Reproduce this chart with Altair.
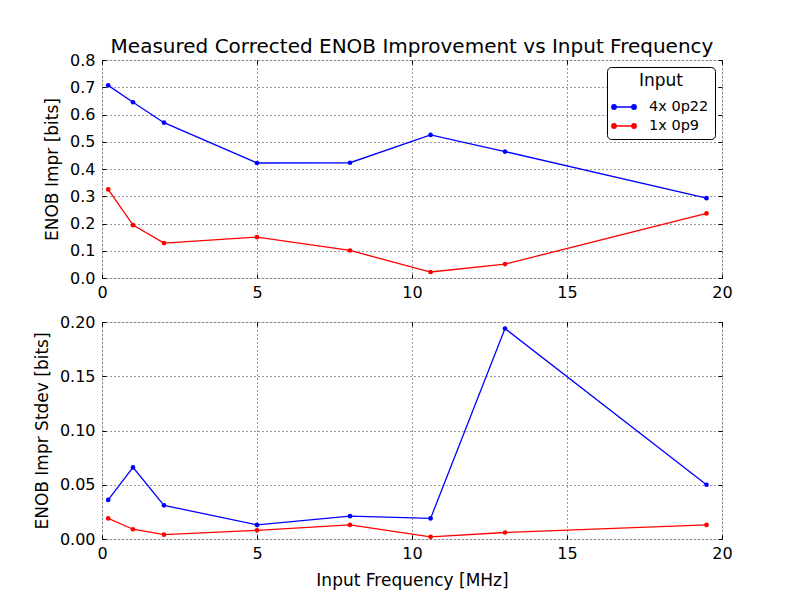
import altair as alt
import pandas as pd

freq = [0.2, 1, 2, 5, 8, 10.6, 13, 19.5]
series = ["4x 0p22", "1x 0p9"]
impr_4x = [0.707, 0.645, 0.570, 0.422, 0.423, 0.525, 0.464, 0.293]
impr_1x = [0.325, 0.194, 0.128, 0.150, 0.101, 0.022, 0.051, 0.237]
stdev_4x = [0.036, 0.066, 0.031, 0.013, 0.021, 0.019, 0.194, 0.050]
stdev_1x = [0.019, 0.009, 0.004, 0.008, 0.013, 0.002, 0.006, 0.013]
x_ticks = [0, 5, 10, 15, 20]
top_ticks = [0.0, 0.1, 0.2, 0.3, 0.4, 0.5, 0.6, 0.7, 0.8]
bot_ticks = [0.0, 0.05, 0.10, 0.15, 0.20]
colors = ["#0000ff", "#ff0000"]

FONT = "DejaVu Sans"

rows = []
for i, f in enumerate(freq):
    rows.append({"freq": f, "series": series[0], "impr": impr_4x[i], "stdev": stdev_4x[i]})
    rows.append({"freq": f, "series": series[1], "impr": impr_1x[i], "stdev": stdev_1x[i]})
df = pd.DataFrame(rows)

SYMBOL = ("M-1,0L1,0"
          "M-1.22,0a0.22,0.22 0 1,0 0.44,0a0.22,0.22 0 1,0 -0.44,0"
          "M0.78,0a0.22,0.22 0 1,0 0.44,0a0.22,0.22 0 1,0 -0.44,0")


def panel(ycol, ydomain, yticks, yfmt, ytitle, extent, height, xtitle, show_legend, title=None):
    xscale = alt.Scale(domain=[0, 20], nice=False, zero=False)
    yscale = alt.Scale(domain=ydomain, nice=False, zero=False)
    xaxis_kwargs = dict(
        values=x_ticks, format="d", grid=True, gridColor="black", gridDash=[1, 3],
        gridWidth=0.8, gridOpacity=1, ticks=False, tickSize=0, domain=False,
        labelPadding=6, labelFontSize=16, labelFont=FONT, labelColor="black",
        labelFlush=False, labelOverlap=False,
        titleFontSize=17, titleFont=FONT, titleFontWeight="normal", titleColor="black",
        titlePadding=11,
    )
    if xtitle:
        xaxis = alt.Axis(title=xtitle, **xaxis_kwargs)
    else:
        xaxis = alt.Axis(title=None, **xaxis_kwargs)
    yaxis = alt.Axis(
        title=ytitle, values=yticks, format=yfmt, grid=True, gridColor="black", gridDash=[1, 3],
        gridWidth=0.8, gridOpacity=1, ticks=False, tickSize=0, domain=False,
        labelPadding=7, labelFontSize=16, labelFont=FONT, labelColor="black",
        labelFlush=False, labelOverlap=False, labelBaseline="middle",
        titleFontSize=17, titleFont=FONT, titleFontWeight="normal", titleColor="black",
        titlePadding=0, minExtent=extent, maxExtent=extent,
    )
    if show_legend:
        legend = alt.Legend(
            title="Input", orient="top-right", offset=7, strokeColor="black", fillColor="white",
            cornerRadius=4, padding=6, titleFontSize=17, titleFont=FONT, titleFontWeight="normal",
            titleColor="black", titleAnchor="middle", titlePadding=6,
            labelFontSize=14.5, labelFont=FONT, labelColor="black", labelOffset=14,
            symbolType=SYMBOL, symbolSize=400, symbolStrokeWidth=1.4, rowPadding=1,
        )
    else:
        legend = None
    color = alt.Color("series:N", scale=alt.Scale(domain=series, range=colors), legend=legend)

    lines = alt.Chart(df).mark_line(strokeWidth=1.3).encode(
        x=alt.X("freq:Q", scale=xscale, axis=xaxis),
        y=alt.Y(f"{ycol}:Q", scale=yscale, axis=yaxis),
        color=color,
        order="freq:Q",
    )
    points = alt.Chart(df).mark_point(filled=True, size=22, opacity=1).encode(
        x=alt.X("freq:Q", axis=None),
        y=alt.Y(f"{ycol}:Q", axis=None),
        color=color,
    )
    tick_kw = dict(offset=-4, tickSize=4, ticks=True, tickColor="black", tickWidth=1,
                   labels=False, grid=False, domain=False, title=None)
    ticks_a = alt.Chart(df).mark_point(opacity=0).encode(
        x=alt.X("freq:Q", axis=alt.Axis(orient="bottom", values=x_ticks, **tick_kw)),
        y=alt.Y(f"{ycol}:Q", axis=alt.Axis(orient="left", values=yticks, **tick_kw)),
    )
    ticks_b = alt.Chart(df).mark_point(opacity=0).encode(
        x=alt.X("freq:Q", axis=alt.Axis(orient="top", values=x_ticks, **tick_kw)),
        y=alt.Y(f"{ycol}:Q", axis=alt.Axis(orient="right", values=yticks, **tick_kw)),
    )
    props = dict(width=620, height=height)
    if title:
        props["title"] = alt.Title(title, fontSize=20, font=FONT, fontWeight="normal",
                                   color="black", anchor="middle", offset=-5)
    return alt.layer(lines, points, ticks_a, ticks_b).resolve_axis(
        x="independent", y="independent").properties(**props)


top = panel("impr", [0, 0.8], top_ticks, ".1f", "ENOB Impr [bits]", 41, 218, None, True,
            title="Measured Corrected ENOB Improvement vs Input Frequency")
bottom = panel("stdev", [0, 0.2], bot_ticks, ".2f", "ENOB Impr Stdev [bits]", 51, 217,
               "Input Frequency [MHz]", False)

chart = alt.vconcat(top, bottom, spacing=12).resolve_scale(color="independent").properties(
    padding={"left": 24, "top": 28, "right": 5, "bottom": 5}
).configure_view(stroke="black", strokeWidth=1.2).configure(background="white")

chart.save("out.html", embed_options={"renderer": "svg", "actions": False})
